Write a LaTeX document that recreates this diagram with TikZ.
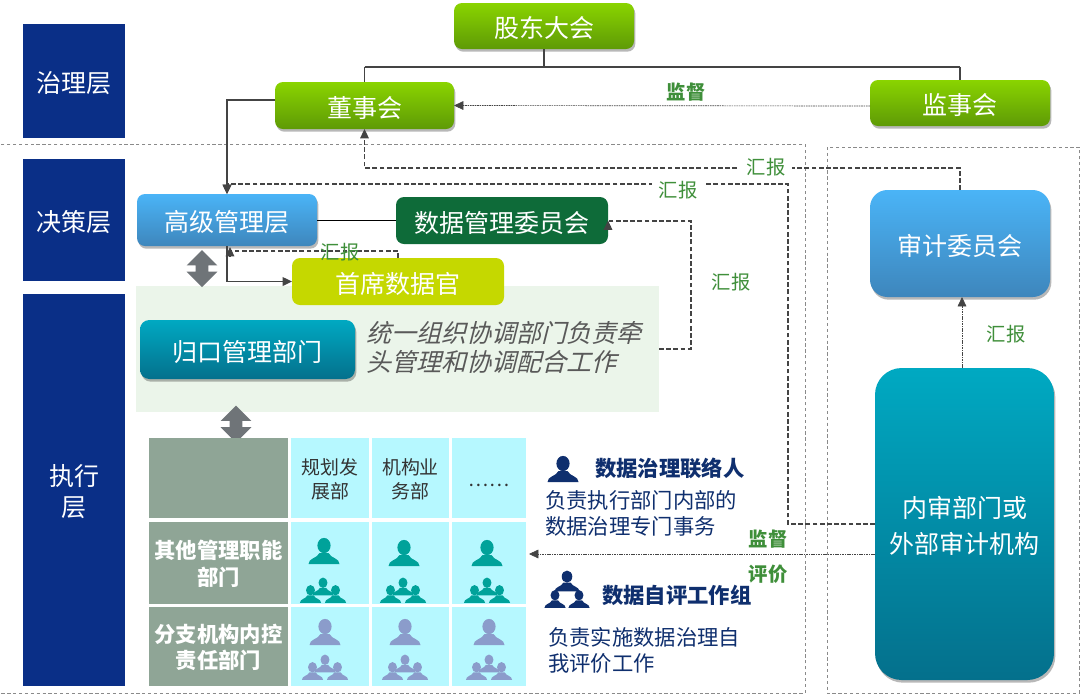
\documentclass[tikz,border=0pt]{standalone}
\usepackage{fontspec}
\setmainfont{Noto Sans CJK SC}
\newfontfamily\slantfont[FakeSlant=0.25]{Noto Sans CJK SC}
\usetikzlibrary{shadows,shapes.arrows,arrows.meta,calc}
\definecolor{navy}{HTML}{0A2F87}
\definecolor{lblgreen}{HTML}{3F8F3A}
\definecolor{linegray}{HTML}{444444}
\definecolor{framegray}{HTML}{8A8A8A}
\definecolor{cellcyan}{HTML}{B6F8FF}
\definecolor{cellgray}{HTML}{8FA596}
\definecolor{tealicon}{HTML}{00A29A}
\definecolor{periicon}{HTML}{8B9CCB}
\definecolor{navyicon}{HTML}{0F2F6E}
\definecolor{HGa}{HTML}{8AD400}
\definecolor{HGb}{HTML}{5E9A06}
\definecolor{HBa}{HTML}{4AB4F7}
\definecolor{HBb}{HTML}{3E86BC}
\definecolor{HTa}{HTML}{00A9C2}
\definecolor{HTb}{HTML}{04708C}
\definecolor{HDk}{HTML}{0E6B39}
\definecolor{HLm}{HTML}{C5D800}
\definecolor{HPn}{HTML}{EBF5EA}
\definecolor{HGr}{HTML}{6F7478}
\newcommand\fsz[2]{\fontsize{#1pt}{#2pt}\selectfont}
\newcommand\bx[7]{%
  \pgfmathsetmacro\cx{(#3+#5)/2}\pgfmathsetmacro\cy{(#4+#6)/2}%
  \pgfmathsetmacro\bw{(#5-#3)*0.75}\pgfmathsetmacro\bh{(#6-#4)*0.75}%
  \node[#2,minimum width=\bw pt,minimum height=\bh pt] (#1) at (\cx,\cy)
    {\raisebox{\dimexpr-.25em-3pt\relax}[0pt][0pt]{\begin{tabular}{@{}c@{}}#7\end{tabular}}};}
\newcommand\personshape{%
  \fill (0,-5.5) ellipse [x radius=6.6,y radius=7.6];
  \fill (-15.5,13) .. controls (-15.5,7) and (-7,7.5) .. (-4.5,2) -- (4.5,2)
    .. controls (7,7.5) and (15.5,7) .. (15.5,13) -- cycle;}
\tikzset{
  base/.style={inner sep=0pt,outer sep=0pt,align=center,text=white,font=\fsz{18.75}{27}},
  layerbox/.style={base,fill=navy},
  softshadow/.style={drop shadow={shadow xshift=1pt,shadow yshift=-2pt,opacity=.28,fill=black}},
  greenbox/.style={base,rounded corners=6pt,top color=HGa,bottom color=HGb,softshadow},
  bluebox/.style={base,rounded corners=8pt,top color=HBa,bottom color=HBb,softshadow},
  tealbox/.style={base,rounded corners=7pt,top color=HTa,bottom color=HTb,softshadow},
  flatdark/.style={base,rounded corners=6pt,fill=HDk},
  flatlime/.style={base,rounded corners=6pt,fill=HLm},
  panel/.style={inner sep=0pt,fill=HPn},
  cell/.style={inner sep=0pt,outer sep=0pt,align=center,fill=cellcyan,text=black!80,font=\fsz{14.2}{18}},
  graycell/.style={inner sep=0pt,outer sep=0pt,align=center,fill=cellgray,text=white,font=\bfseries\fsz{16}{19.5}},
  lbl/.style={inner sep=1pt,text=lblgreen,font=\fsz{14.5}{16}},
  lblb/.style={lbl,font=\bfseries\fsz{14.5}{16}},
  lblgap/.style={lbl,fill=white,inner xsep=5pt},
  ink/.style={text=navyicon,inner sep=0pt,anchor=west,font=\fsz{16}{20}},
  inkb/.style={text=navyicon,inner sep=0pt,anchor=west,font=\bfseries\fsz{16}{20}},
  solidline/.style={draw=linegray,line width=1pt},
  dashline/.style={draw=linegray,line width=.85pt,dash pattern=on 3.6pt off 1.8pt},
  fineline/.style={draw=linegray,line width=.5pt,dash pattern=on 1.2pt off .6pt},
  tip/.style={-{Triangle[length=7pt,width=6.5pt]}},
  frame/.style={draw=framegray,line width=.5pt,dash pattern=on 2.4pt off 2pt},
  dbl/.style={double arrow,double arrow head extend=6.75pt,fill=HGr,inner xsep=0pt,inner ysep=4.5pt,outer sep=0pt,
     minimum width=22.5pt,minimum height=27.75pt,rotate=90},
  person/.pic={\personshape},
  people/.pic={
    \begin{scope}[shift={(-12.5,4)},scale=.68] \personshape \end{scope}
    \begin{scope}[shift={(12.5,4)},scale=.68] \personshape \end{scope}
    \begin{scope}[shift={(0,-3.5)},scale=.68] \personshape \end{scope}
  },
  tree/.pic={
    \begin{scope}[shift={(-12,9)},scale=.68] \personshape \end{scope}
    \begin{scope}[shift={(12,9)},scale=.68] \personshape \end{scope}
    \begin{scope}[shift={(0,-9)},scale=.8] \personshape \end{scope}
  },
}
\begin{document}
\begin{tikzpicture}[x=.75pt,y=-.75pt]
\useasboundingbox[fill=white] (0,0) rectangle (1080,694);

% frames
\draw[frame] (-1,144) rectangle (805,693);
\draw[frame] (827,147) rectangle (1079,693);

% panel
\bx{pn}{panel}{136}{286}{659}{412}{}

% layers
\bx{zl}{layerbox}{23}{24}{125}{138}{治理层}
\bx{jc}{layerbox}{23}{159}{125}{281}{决策层}
\bx{zx}{layerbox,font=\fsz{18.75}{23.25}}{23}{294}{125}{686}{执行\\层}

% boxes
\bx{gd}{greenbox}{454}{3}{634}{49}{股东大会}
\bx{ds}{greenbox}{275}{82}{454}{129}{董事会}
\bx{js}{greenbox}{870}{80}{1050}{126}{监事会}
\bx{gj}{bluebox,rounded corners=6pt}{137}{194}{317}{246}{高级管理层}
\bx{sj}{flatdark}{396}{197}{608}{244}{数据管理委员会}
\bx{sx}{flatlime}{292}{258}{504}{305}{首席数据官}
\bx{gk}{tealbox}{140}{320}{355}{379}{归口管理部门}
\bx{aud}{bluebox,rounded corners=13pt}{870}{190}{1050}{297}{审计委员会}
\bx{nsj}{tealbox,rounded corners=20pt}{875}{368}{1054}{680}{内审部门或\\外部审计机构}

% italic text
\node[inner sep=0pt,anchor=west,align=left,text=black!65,font=\slantfont\fsz{18.75}{21.7}] (it) at (366,347.5)
  {统一组织协调部门负责牵\\头管理和协调配合工作};

% connectors, solid
\coordinate (tr) at (544,67);
\draw[solidline] (gd.south) -- (tr);
\draw[solidline] (ds.north |- tr) -- (js.north |- tr);
\draw[solidline] (ds.north |- tr) -- (ds.north);
\draw[solidline] (js.north |- tr) -- (js.north);
\coordinate (dsL) at (275,100);
\draw[solidline,tip] (dsL) -- (gj.north |- dsL) -- (gj.north);
\draw[solidline,draw=black] (gj.east |- sj.west) -- (sj.west);
\draw[solidline,tip] (gj.south) |- (sx.west);

% dashed
\coordinate (a1) at (960,168);
\coordinate (a2) at (788,184);
\coordinate (a3) at (691,221);
\coordinate (a4) at (691,349);
\coordinate (a5) at (398,251);
\draw[dashline,tip] (aud.north) -- (a1) -- (ds.south |- a1) -- (ds.south);
\draw[dashline,tip] (875,524) coordinate (n1) -- (a2 |- n1) -- (a2) -- (gj.north |- a2) -- (gj.north);
\draw[dashline,tip] (659,349) coordinate (p1) -- (a4) -- (a3) -- (sj.east |- a3) -- (sj.east);
\draw[dashline,tip] (a5 |- sx.north) -- (a5) -- (230,251) -- (230,247);

% fine dashed
\coordinate (m1) at (870,106);
\draw[fineline,tip] (m1) -- (ds.east);
\coordinate (aud1) at (962,368);
\draw[fineline,tip] (aud1) -- (962,297);
\coordinate (ev) at (875,554);
\draw[fineline,tip] (ev) -- (529,554);

% labels
\node[lblgap] (l1) at (766,167) {汇报};
\node[lblgap] (l2) at (678,190) {汇报};
\node[lbl] (l3) at (731,282) {汇报};
\node[lbl] (l4) at (1006,334) {汇报};
\node[lbl] (l5) at (340,252) {汇报};
\node[lblb] (l6) at (686,92) {监督};
\node[lblb] (l7) at (768,539) {监督};
\node[lblb] (l8) at (768,574) {评价};

% double arrows
\node[dbl] (d1) at (202,268.5) {};
\node[dbl] (d2) at (236,424) {};

% table
\bx{c00}{graycell}{149}{438}{288}{518}{}
\bx{c01}{cell}{291}{438}{369}{518}{规划发\\展部}
\bx{c02}{cell}{372}{438}{449}{518}{机构业\\务部}
\bx{c03}{cell}{452}{438}{526}{518}{……}
\bx{c10}{graycell}{149}{522}{288}{604}{其他管理职能\\部门}
\bx{c11}{cell}{291}{522}{369}{604}{}
\bx{c12}{cell}{372}{522}{449}{604}{}
\bx{c13}{cell}{452}{522}{526}{604}{}
\bx{c20}{graycell}{149}{607}{288}{686}{分支机构内控\\责任部门}
\bx{c21}{cell}{291}{607}{369}{686}{}
\bx{c22}{cell}{372}{607}{449}{686}{}
\bx{c23}{cell}{452}{607}{526}{686}{}

% icons
\foreach \x/\y in {324/551,404/553,487/553}{\pic[fill=tealicon] at (\x,\y) {person};}
\foreach \x/\y in {323/590,403/590,487/590}{\pic[fill=tealicon] at (\x,\y) {people};}
\foreach \x/\y in {325/632,405/632,489/632}{\pic[fill=periicon] at (\x,\y) {person};}
\foreach \x/\y in {325/667,405/667,489/667}{\pic[fill=periicon] at (\x,\y) {people};}
\pic[fill=navyicon] at (563,469) {person};
\pic[fill=navyicon] at (567,590) {tree};

% legend text
\node[inkb] (t1) at (595,468) {数据治理联络人};
\node[ink] (t2) at (545,500) {负责执行部门内部的};
\node[ink] (t3) at (545,526) {数据治理专门事务};
\node[inkb] (t4) at (602,595) {数据自评工作组};
\node[ink] (t5) at (548,637) {负责实施数据治理自};
\node[ink] (t6) at (548,663) {我评价工作};
\end{tikzpicture}
\end{document}
